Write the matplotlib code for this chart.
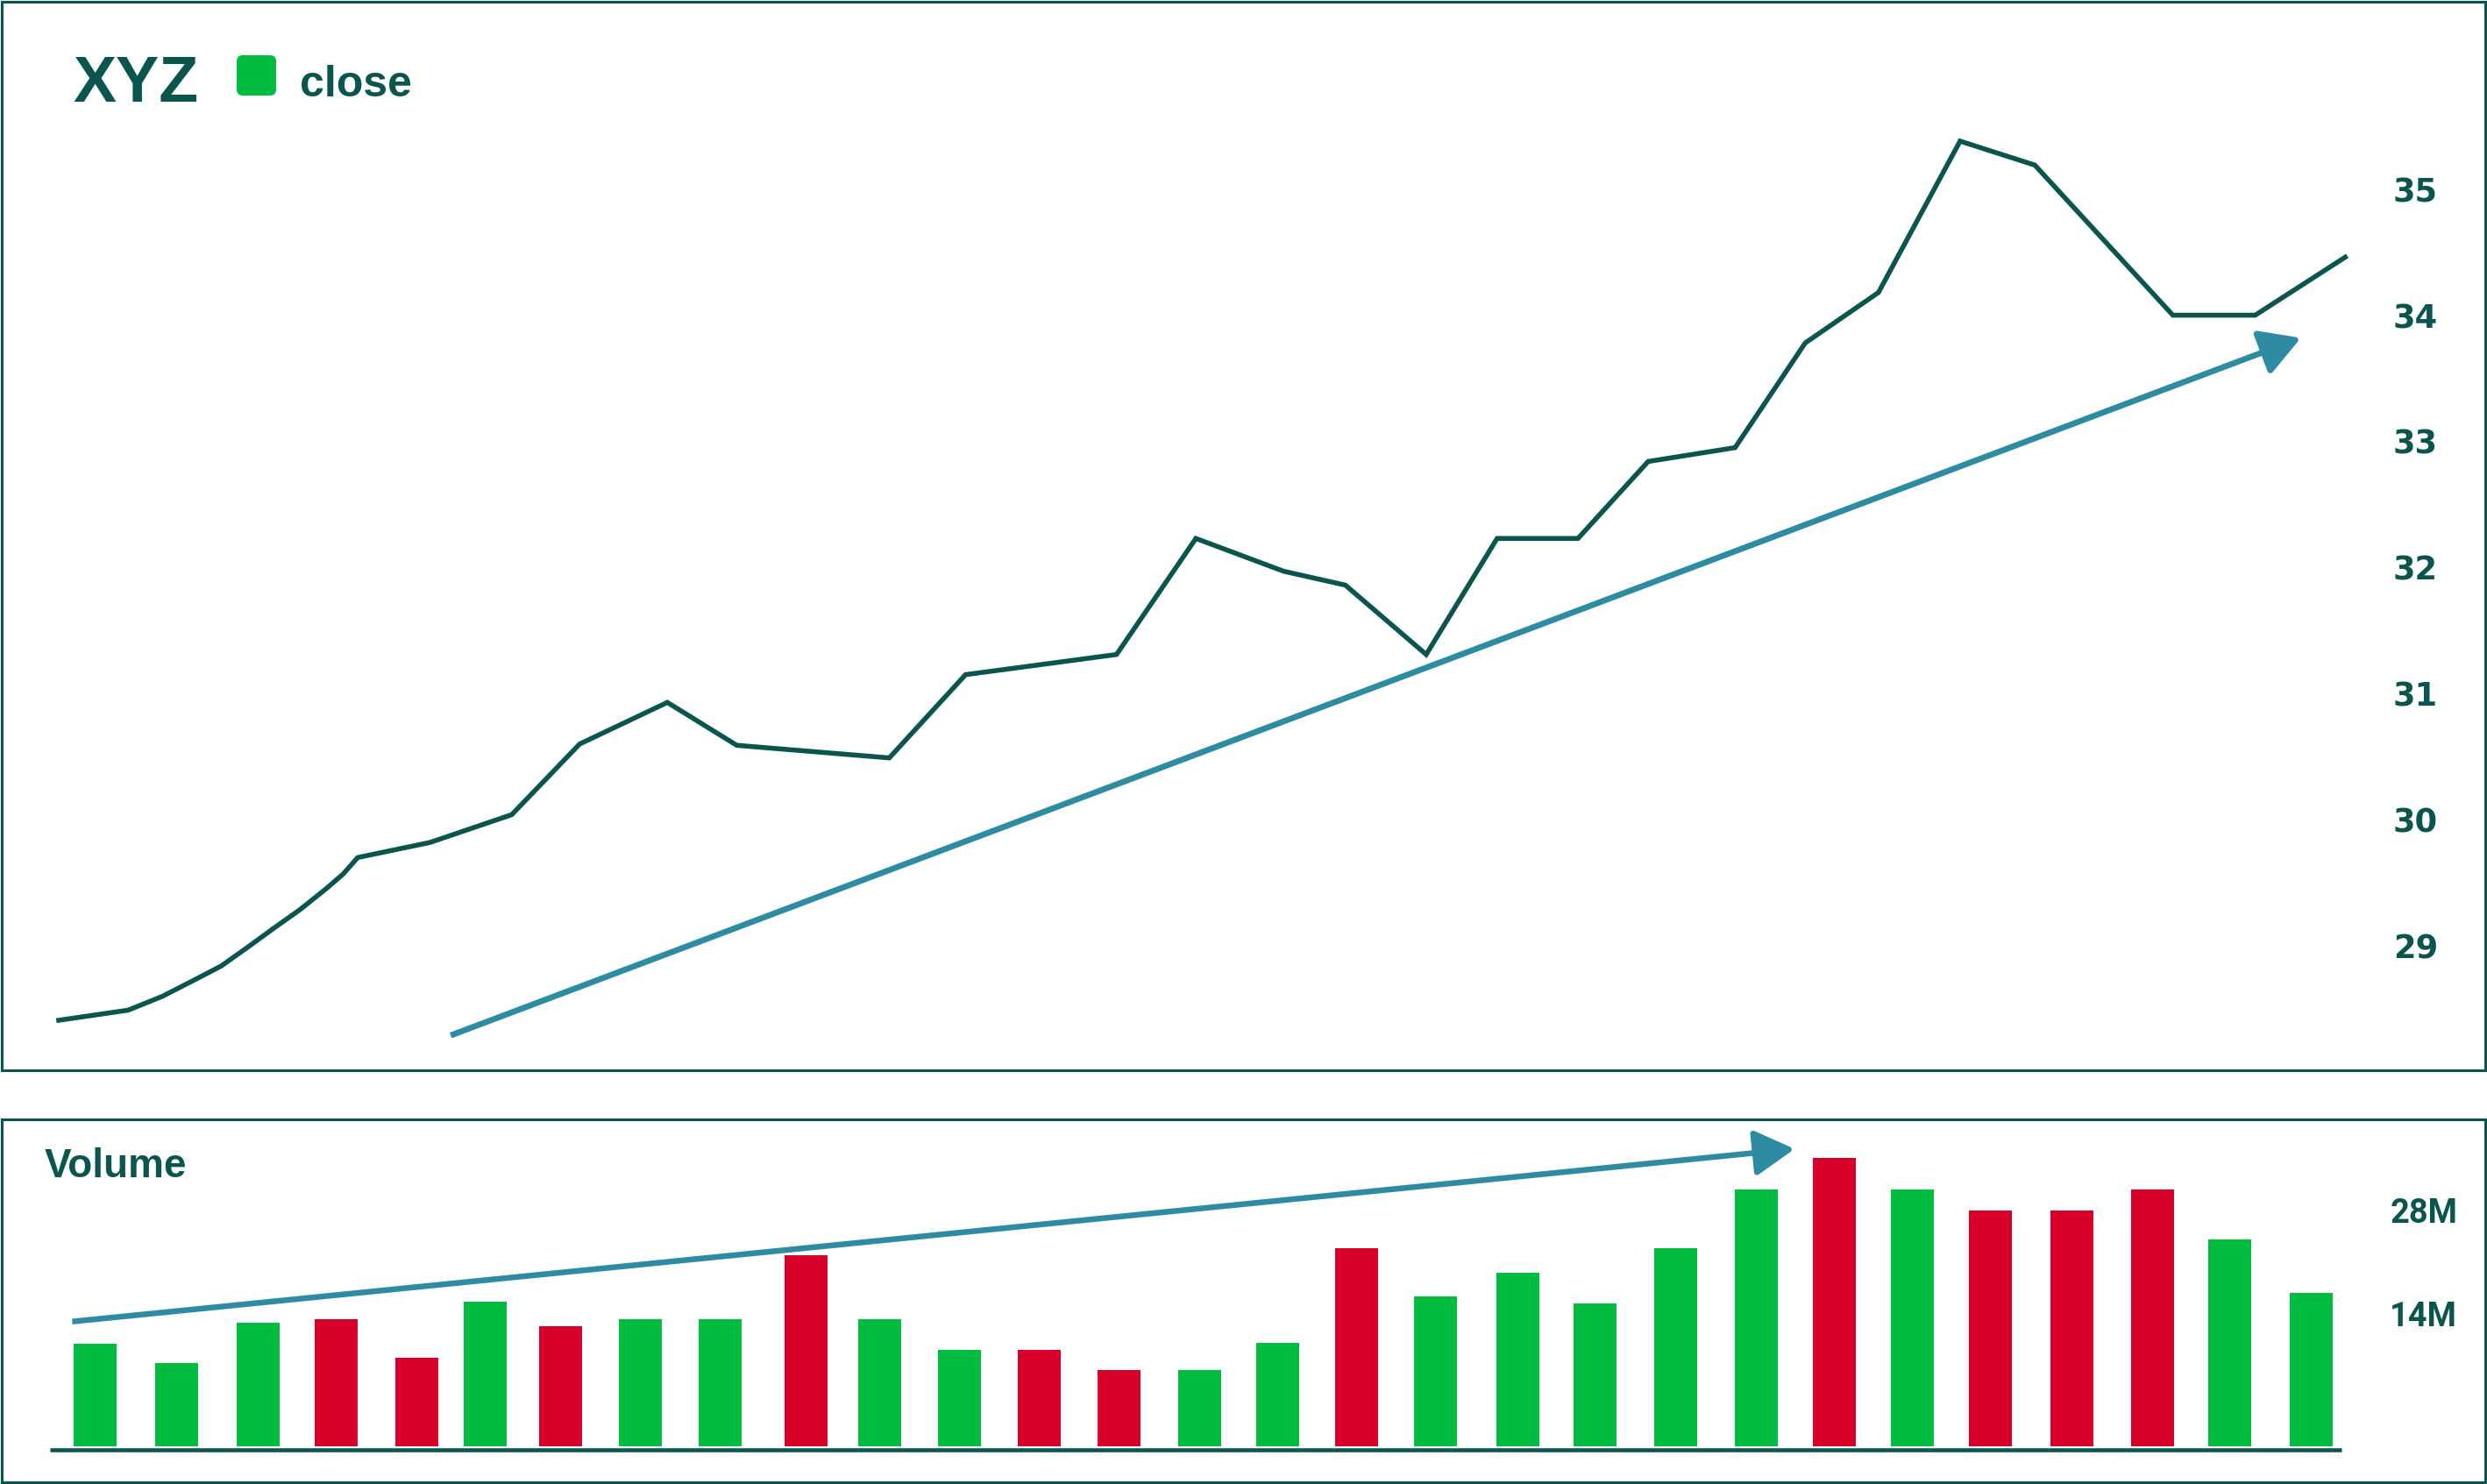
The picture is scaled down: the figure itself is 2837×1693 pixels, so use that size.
import matplotlib.pyplot as plt
from matplotlib.patches import FancyArrowPatch, FancyBboxPatch, ArrowStyle

# colours
dark = '#0B554F'
teal = '#2E8CA2'
green = '#00BD3F'
red = '#D7002A'

# close price: position on the time axis and value
price_pos = [0, 0.91, 1.36, 1.78, 2.13, 2.48, 2.82, 3.17, 3.52, 3.73, 3.92,
             4.87, 5.94, 6.83, 7.98, 8.89, 10.89, 11.89, 13.87, 14.91, 16.06,
             16.87, 17.93, 18.86, 19.92, 20.84, 21.98, 22.90, 23.86, 24.93,
             25.91, 27.72, 28.80, 29.98]
price_close = [28.41, 28.49, 28.60, 28.73, 28.84, 28.99, 29.14, 29.29, 29.46,
               29.57, 29.70, 29.82, 30.04, 30.60, 30.93, 30.59, 30.49, 31.15,
               31.31, 32.23, 31.97, 31.86, 31.31, 32.23, 32.23, 32.84, 32.95,
               33.78, 34.18, 35.38, 35.19, 34.00, 34.00, 34.46]
price_ticks = [29, 30, 31, 32, 33, 34, 35]

# volume bars (millions)
vol_pos = [0, 1.03, 2.06, 3.05, 4.06, 4.93, 5.88, 6.89, 7.90, 8.98, 9.91,
           10.92, 11.93, 12.93, 13.95, 14.94, 15.94, 16.93, 17.97, 18.95,
           19.97, 20.99, 21.97, 22.96, 23.94, 24.97, 25.99, 26.97, 28.0]
volume = [9.9, 7.3, 12.75, 13.2, 8.0, 15.6, 12.3, 13.2, 13.2, 21.9, 13.2,
          9.1, 9.1, 6.35, 6.35, 10.0, 22.85, 16.3, 19.5, 15.35, 22.85, 30.8,
          35.05, 30.8, 28.0, 28.0, 30.8, 24.0, 16.8]
direction = ['up', 'up', 'up', 'down', 'down', 'up', 'down', 'up', 'up',
             'down', 'up', 'up', 'down', 'down', 'up', 'up', 'down', 'up',
             'up', 'up', 'up', 'up', 'down', 'up', 'down', 'down', 'down',
             'up', 'up']
vol_ticks = [14, 28]
vol_labels = ['14M', '28M']
vol_base = -4.0

W, H = 2837, 1693
fig = plt.figure(figsize=(W / 100, H / 100), dpi=100)
fig.patch.set_facecolor('white')

# price panel
ax1 = fig.add_axes([2 / W, (H - 1220.5) / H, 2833 / W, 1218.5 / H])
ax1.plot(price_pos, price_close, color=dark, lw=4.0, solid_joinstyle='miter')
ax1.set_xlim(-0.747, 31.816)
ax1.set_ylim(28.017, 36.485)
ax1.set_xticks([])
ax1.yaxis.tick_right()
ax1.set_yticks(price_ticks, labels=[str(t) for t in price_ticks],
               fontweight='bold', fontsize=26.6, color=dark,
               fontfamily='DejaVu Sans')
ax1.tick_params(axis='y', length=0, pad=-75.6)
ax1.add_patch(FancyArrowPatch((5.14, 28.29), (29.40, 33.82),
                              arrowstyle=ArrowStyle('-|>', head_length=28, head_width=16),
                              mutation_scale=1, lw=4.9, color=teal,
                              shrinkA=0, shrinkB=0, capstyle='butt', joinstyle='round'))

# volume panel
ax2 = fig.add_axes([2 / W, (H - 1691) / H, 2833 / W, 414 / H])
colors = [green if d == 'up' else red for d in direction]
ax2.bar(vol_pos, [v - vol_base for v in volume], bottom=vol_base,
        width=0.543, color=colors)
ax2.hlines(-4.45, -0.570, 28.38, color=dark, lw=3.3)
ax2.set_xlim(-1.179, 30.194)
ax2.set_ylim(-8.84, 40.28)
ax2.set_xticks([])
ax2.yaxis.tick_right()
ax2.set_yticks(vol_ticks, labels=vol_labels, fontweight='bold', fontsize=27.4,
               color=dark, fontfamily='Roboto', ha='right')
ax2.tick_params(axis='y', length=0, pad=-23)
ax2.add_patch(FancyArrowPatch((-0.289, 12.91), (21.47, 36.28),
                              arrowstyle=ArrowStyle('-|>', head_length=28, head_width=16),
                              mutation_scale=1, lw=4.7, color=teal,
                              shrinkA=0, shrinkB=0, capstyle='butt', joinstyle='round'))

for ax in (ax1, ax2):
    for sp in ax.spines.values():
        sp.set_color(dark)
        sp.set_linewidth(2.2)

# header texts, placed in pixel coordinates
ov = fig.add_axes([0, 0, 1, 1], zorder=5)
ov.set_xlim(0, W)
ov.set_ylim(H, 0)
ov.axis('off')
ov.patch.set_alpha(0)
ov.text(83, 116, 'XYZ', fontsize=53, fontweight='bold', color=dark,
        fontfamily='Liberation Sans', ha='left', va='baseline')
ov.add_patch(FancyBboxPatch((270, 63), 45, 46, boxstyle='round,pad=0,rounding_size=7',
                            facecolor=green, edgecolor='none'))
ov.text(342, 110, 'close', fontsize=36, fontweight='bold', color=dark,
        fontfamily='Liberation Sans', ha='left', va='baseline')
ov.text(51, 1343, 'Volume', fontsize=33, fontweight='bold', color=dark,
        fontfamily='Liberation Sans', ha='left', va='baseline')

fig.savefig('out.png', dpi=100)
